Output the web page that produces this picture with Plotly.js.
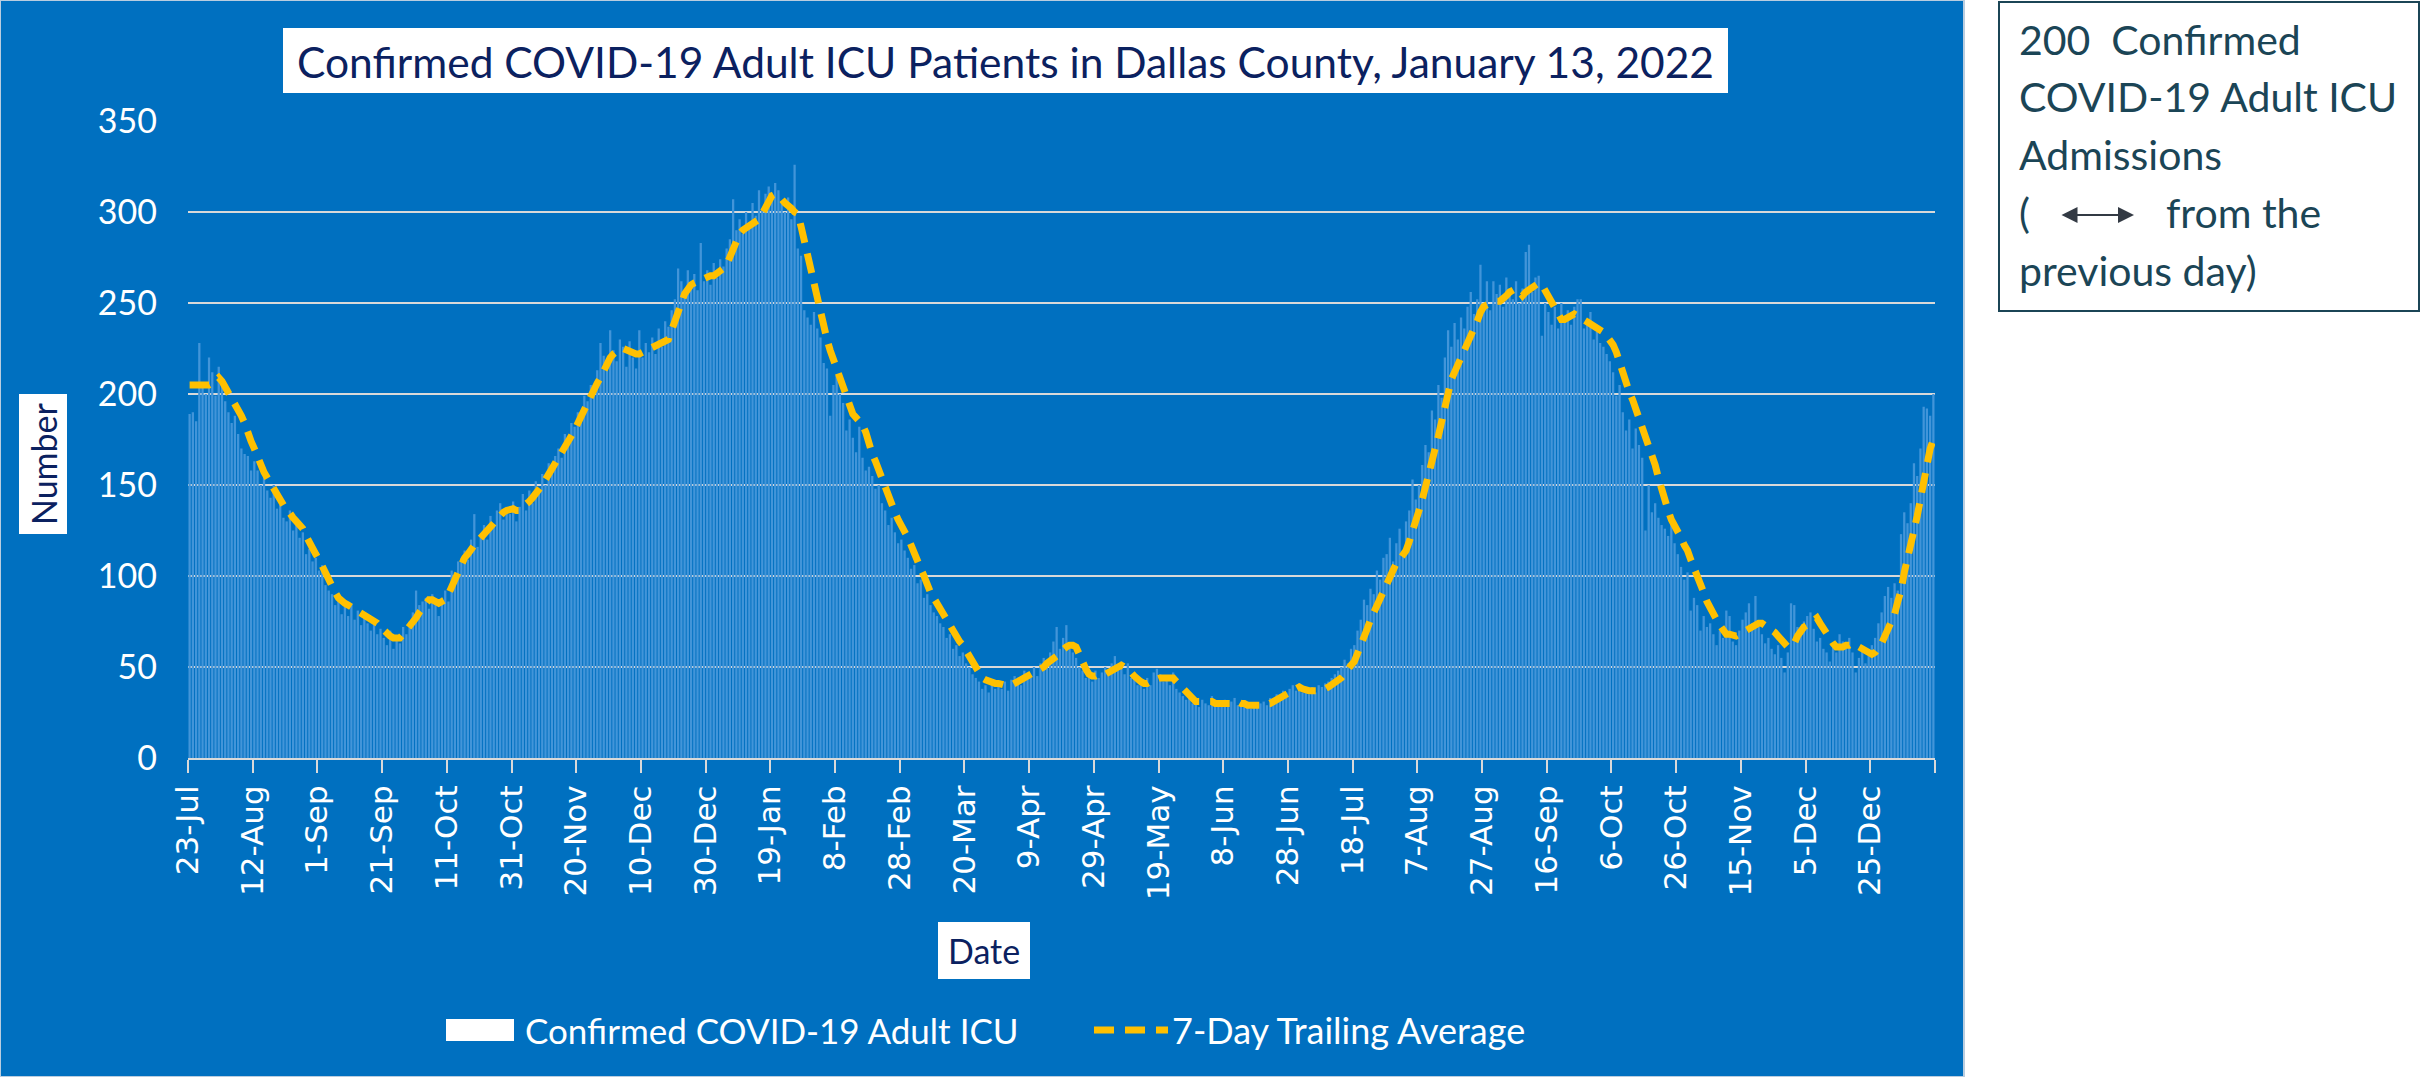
<!DOCTYPE html>
<html>
<head>
<meta charset="utf-8">
<script src="https://cdn.plot.ly/plotly-3.0.1.min.js"></script>
<style>html,body{margin:0;padding:0;background:#fff;}#chart{width:2425px;height:1077px;}</style>
</head>
<body>
<div id="chart"></div>
<script>
// ---------- DATA ----------
const startDate = '2020-07-23';   // first day shown; one value per day follows
const dailyICU = [
189,190,185,228,205,200,220,212,199,215,
205,196,190,184,188,178,170,167,166,158,
163,158,150,155,147,143,150,137,139,132,
130,136,125,128,121,124,112,115,108,110,
103,106,95,92,90,84,87,79,83,78,
85,76,81,73,79,74,70,76,68,71,
66,62,70,60,65,63,72,68,75,80,
92,84,86,88,82,90,86,78,88,92,
86,103,102,108,110,114,109,120,134,116,
122,128,120,133,127,136,140,131,138,134,
141,130,138,145,136,147,140,152,146,156,
150,162,158,166,170,165,178,176,184,182,
190,186,199,196,205,202,213,228,221,218,
235,224,218,230,226,215,229,220,214,235,
220,228,223,231,222,236,226,240,237,246,
252,269,262,256,268,258,266,257,283,262,
268,260,272,264,274,270,280,285,307,290,
296,288,300,293,305,298,312,302,310,314,
308,316,312,306,300,308,296,326,280,276,
246,242,238,245,236,231,217,214,188,205,
210,200,195,180,186,176,168,182,165,158,
160,155,148,150,140,136,128,132,124,118,
120,114,110,104,106,96,98,88,90,84,
80,78,74,72,66,68,60,62,56,58,
52,50,46,44,42,38,40,36,42,38,
40,38,42,37,43,45,44,40,48,46,
44,50,45,52,55,50,58,64,72,60,
66,73,60,58,55,50,48,44,46,42,
48,44,47,50,45,52,56,48,53,46,
52,44,46,40,43,38,44,40,47,49,
46,42,45,40,47,38,36,34,32,35,
30,33,28,32,30,29,34,28,31,29,
32,28,31,33,29,30,28,31,27,30,
28,30,31,29,33,32,35,34,37,36,
38,40,37,41,36,38,35,39,36,40,
39,41,42,44,46,48,50,54,52,60,
62,70,76,87,84,93,90,103,98,110,
112,121,108,118,126,114,130,136,153,142,
150,161,172,168,191,186,205,198,220,235,
226,239,230,242,236,248,256,244,252,271,
250,262,246,262,255,260,248,264,258,252,
262,250,258,278,282,256,264,265,232,250,
245,238,248,236,250,240,246,238,248,252,
252,236,240,245,230,234,228,226,222,218,
212,199,205,190,180,186,170,181,172,165,
125,150,135,140,132,128,126,122,130,118,
112,105,98,102,81,88,84,70,78,72,
74,68,62,70,66,81,78,64,62,70,
76,80,85,74,89,72,68,63,66,60,
57,62,55,47,58,85,84,72,68,75,
78,80,71,64,66,60,58,53,62,58,
68,64,60,66,58,47,55,60,52,56,
62,66,74,80,89,94,88,96,92,123,
135,129,140,162,155,170,193,192,188,200
];
const trailingAvg = [
205,205,205,205,205,205,205,206,208,209,
207,204,200,197,194,191,188,184,178,174,
170,165,161,157,154,151,148,144,141,139,
137,134,132,130,128,126,122,118,115,112,
109,105,101,97,94,91,88,86,85,84,
83,82,80,79,78,77,76,75,74,72,
70,68,67,66,66,66,68,70,72,74,
77,80,82,85,87,87,86,85,86,87,
90,94,98,104,107,110,112,115,117,119,
121,123,126,128,130,132,134,135,136,137,
137,136,136,138,139,141,143,145,148,150,
153,156,159,162,165,168,171,174,176,180,
184,188,192,196,199,203,206,209,213,216,
220,222,224,225,225,224,223,222,222,222,
223,224,225,225,226,227,228,229,230,235,
241,246,250,255,258,260,261,262,263,264,
264,265,265,266,267,269,271,275,281,285,
288,290,291,292,293,294,296,299,303,307,
309,310,309,307,305,304,302,300,299,292,
284,277,268,258,250,242,236,230,224,219,
214,208,204,198,193,189,187,185,183,179,
172,167,163,158,154,149,144,139,135,131,
128,125,121,117,112,108,104,100,95,91,
88,85,81,78,75,72,70,67,64,62,
59,56,52,49,46,44,43,42,41,41,
41,40,40,40,40,41,42,43,44,45,
46,46,47,48,50,52,53,54,56,58,
60,61,62,62,61,56,53,49,46,45,
45,46,46,46,47,48,50,51,51,50,
49,47,45,43,42,41,41,42,43,44,
44,44,44,44,44,42,40,38,36,34,
32,31,31,31,31,31,31,30,30,30,
30,30,30,31,31,30,30,29,29,29,
29,29,29,30,30,31,32,33,34,35,
36,37,38,39,38,37,37,37,37,37,
38,38,39,40,42,43,44,46,49,51,
53,57,61,66,71,76,80,84,88,92,
96,100,104,107,109,111,114,119,124,129,
136,142,150,157,163,170,177,185,193,201,
208,212,216,219,222,226,231,235,240,245,
248,249,250,250,251,251,252,254,256,257,
258,256,254,256,257,258,260,261,260,257,
254,250,247,244,241,241,242,243,244,243,
242,241,240,239,238,237,236,234,232,230,
227,223,217,211,207,201,197,192,187,181,
176,171,166,161,154,147,141,136,131,128,
124,121,117,114,109,105,100,96,91,86,
82,78,76,73,70,68,68,67,67,68,
69,70,71,73,74,74,74,73,72,71,
69,67,65,63,61,61,63,67,70,72,
73,74,76,77,74,71,68,65,63,61,
61,61,62,62,63,62,61,60,59,58,
57,58,60,63,67,71,75,79,86,92,
102,109,115,125,133,143,150,160,170,175
];
const tickDates = ['2020-07-23','2020-08-12','2020-09-01','2020-09-21','2020-10-11','2020-10-31','2020-11-20','2020-12-10','2020-12-30','2021-01-19','2021-02-08','2021-02-28','2021-03-20','2021-04-09','2021-04-29','2021-05-19','2021-06-08','2021-06-28','2021-07-18','2021-08-07','2021-08-27','2021-09-16','2021-10-06','2021-10-26','2021-11-15','2021-12-05','2021-12-25','2022-01-14'];
const tickLabels = ['23-Jul','12-Aug','1-Sep','21-Sep','11-Oct','31-Oct','20-Nov','10-Dec','30-Dec','19-Jan','8-Feb','28-Feb','20-Mar','9-Apr','29-Apr','19-May','8-Jun','28-Jun','18-Jul','7-Aug','27-Aug','16-Sep','6-Oct','26-Oct','15-Nov','5-Dec','25-Dec',''];
const barName = 'Confirmed COVID-19 Adult ICU';
const lineName = '7-Day Trailing Average';
const titleText = 'Confirmed COVID-19 Adult ICU Patients in Dallas County, January 13, 2022';
const yTitle = 'Number';
const xTitle = 'Date';
const noteLines = ['200  Confirmed', 'COVID-19 Adult ICU', 'Admissions', '(', 'from the', 'previous day)'];

// ---------- dates (one per value, centred at noon) ----------
function pad(n){return n<10?'0'+n:''+n;}
const d0 = new Date(startDate + 'T00:00:00Z');
const days = dailyICU.map((_, i) => {
  const d = new Date(d0.getTime() + i*86400000);
  return d.getUTCFullYear()+'-'+pad(d.getUTCMonth()+1)+'-'+pad(d.getUTCDate())+' 12:00';
});

// ---------- layout helpers (pixel -> paper) ----------
const W = 2425, H = 1077;
const L = 188, R = 1935, T = 121, B = 758;
const px = x => (x - L) / (R - L);
const py = y => (B - y) / (B - T);

const BLUE = '#0070C0', GRID = '#d9d9d9', GOLD = '#FFC000', NAVY = '#0b2160', TEAL = '#1b4556';
const FONT = 'Lato, "Open Sans", sans-serif';

const traces = [
  {type:'bar', x: days, y: dailyICU, name: barName,
   marker:{color:'#4295d9', line:{width:0}}, hoverinfo:'x+y'},
  {type:'scatter', mode:'lines', x: days, y: trailingAvg, name: lineName,
   line:{color: GOLD, width: 7, dash:'20px,11px'}}
];

function rect(x0,y0,x1,y1,fill,lineColor,lw){
  return {type:'rect', xref:'paper', yref:'paper', x0:px(x0), x1:px(x1), y0:py(y1), y1:py(y0),
          fillcolor:fill, line:{color:lineColor||fill, width:lw||0}, layer:'below'};
}
const shapes = [
  rect(0,0,1964,1077,BLUE,'#b9cde0',2),
  rect(283,28,1728,93,'#ffffff'),
  rect(19,394,67,534,'#ffffff'),
  rect(938,922,1030,979,'#ffffff'),
  rect(446,1019,514,1041,'#ffffff'),
  rect(1999,2,2419,311,'#ffffff',TEAL,2),
  {type:'line', xref:'paper', yref:'paper', x0:px(1094), x1:px(1168), y0:py(1030), y1:py(1030),
   line:{color:GOLD, width:7, dash:'20px,11px'}, layer:'above'}
];

function ann(text,x,y,size,color,opts){
  return Object.assign({xref:'paper', yref:'paper', x:px(x), y:py(y), text:text, showarrow:false,
    font:{family:FONT, size:size, color:color}, xanchor:'center', yanchor:'middle'}, opts||{});
}
const annotations = [
  ann(titleText, 1005, 61, 42.5, NAVY),
  ann(yTitle, 43, 464, 34, NAVY, {textangle:-90}),
  ann(xTitle, 984, 951, 34, NAVY),
  ann(barName, 523, 1030, 35, '#ffffff', {xanchor:'left'}),
  ann(lineName, 1170, 1030, 36, '#ffffff', {xanchor:'left'}),
  ann(noteLines[0], 2017, 40, 41, TEAL, {xanchor:'left'}),
  ann(noteLines[1], 2017, 97, 41, TEAL, {xanchor:'left'}),
  ann(noteLines[2], 2017, 154, 41, TEAL, {xanchor:'left'}),
  ann(noteLines[3], 2017, 212, 41, TEAL, {xanchor:'left'}),
  ann(noteLines[4], 2164, 212, 41, TEAL, {xanchor:'left'}),
  ann(noteLines[5], 2017, 270, 41, TEAL, {xanchor:'left'}),
  {xref:'paper', yref:'paper', x:px(2134), y:py(215), ax:px(2060), ay:py(215), axref:'paper', ayref:'paper',
   text:'', showarrow:true, arrowside:'end+start', arrowhead:2, startarrowhead:2,
   arrowsize:1.6, startarrowsize:1.6, arrowwidth:2, arrowcolor:'#333a44'}
];

const layout = {
  width: W, height: H,
  margin:{l:L, r:W-R, t:T, b:H-B, pad:0},
  paper_bgcolor:'#ffffff', plot_bgcolor:'rgba(0,0,0,0)',
  showlegend:false, bargap:0.3,
  xaxis:{type:'date', range:['2020-07-23','2022-01-14'], tickmode:'array', tickvals:tickDates, ticktext:tickLabels,
    tickangle:-90, tickfont:{family:'"DejaVu Sans", Verdana, sans-serif', size:31, color:'#ffffff'},
    ticks:'outside', ticklen:13, tickwidth:2, tickcolor:GRID,
    showline:true, linecolor:GRID, linewidth:2, showgrid:false, zeroline:false, fixedrange:true},
  yaxis:{range:[0,350], tick0:0, dtick:50, tickfont:{family:FONT, size:34, color:'#ffffff'},
    gridcolor:GRID, gridwidth:2, showline:false, zeroline:false, ticks:'', ticklabelstandoff:30, fixedrange:true},
  shapes: shapes, annotations: annotations
};

Plotly.newPlot('chart', traces, layout, {displayModeBar:false, staticPlot:true});
</script>
</body>
</html>
